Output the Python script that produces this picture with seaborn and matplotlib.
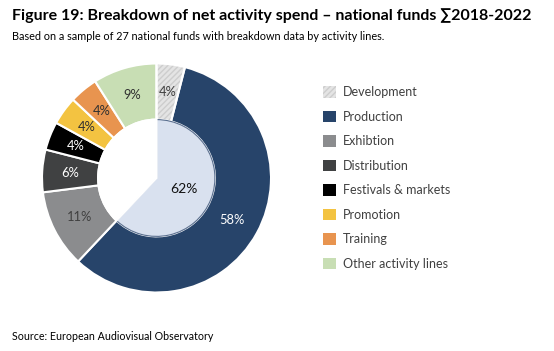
import matplotlib
matplotlib.use("Agg")
import matplotlib.pyplot as plt
from matplotlib.patches import Patch
import numpy as np
import seaborn as sns

categories = ["Development", "Production", "Exhibtion", "Distribution",
              "Festivals & markets", "Promotion", "Training", "Other activity lines"]
shares = [4, 58, 11, 6, 4, 4, 4, 9]
colors = ["#e4e4e4", "#27446a", "#8b8c8e", "#404142", "#000000",
          "#f3c341", "#e8944f", "#c8deb4"]
label_colors = ["#404040", "white", "#404040", "white", "white",
                "#303030", "#303030", "#303030"]
inner_values = [62, 38]
inner_colors = ["#d9e1ef", "white"]

sns.set_theme(style="white")
plt.rcParams["font.family"] = ["Lato", "DejaVu Sans"]

W, H = 554, 351
fig = plt.figure(figsize=(W / 100, H / 100), dpi=100)

cx, cy, R = 156.5, 178, 114.5
ax = fig.add_axes([(cx - R) / W, (H - cy - R) / H, 2 * R / W, 2 * R / H])
ax.axis("off")

ring_w = 0.49
wedges, texts = ax.pie(shares, colors=colors, radius=1.0, startangle=90,
                       counterclock=False,
                       wedgeprops=dict(width=ring_w, edgecolor="white", linewidth=1.5))
wedges[0].set_hatch("//////")
wedges[0].set_edgecolor("#cdcdcd")
wedges[0].set_linewidth(0)
over, _ = ax.pie(shares[:1] + [sum(shares[1:])], colors=["none", "none"], radius=1.0,
                 startangle=90, counterclock=False,
                 wedgeprops=dict(width=ring_w, edgecolor="white", linewidth=1.5))
over[1].set_visible(False)

cum = np.cumsum([0] + shares)
for i, v in enumerate(shares):
    mid = 90 - (cum[i] + v / 2) / 100 * 360
    r = 1 - ring_w / 2
    ax.text(r * np.cos(np.radians(mid)), r * np.sin(np.radians(mid)), f"{v}%",
            ha="center", va="center", fontsize=9.3, color=label_colors[i])

inner_r = 0.51
iw, _ = ax.pie(inner_values, colors=inner_colors, radius=inner_r, startangle=90,
               counterclock=False,
               wedgeprops=dict(edgecolor="white", linewidth=1.5))
iw[0].set_edgecolor("#5a6f8f")
iw[0].set_linewidth(0.8)
mid = 90 - inner_values[0] / 2 / 100 * 360
ax.text(0.26 * np.cos(np.radians(mid)), 0.26 * np.sin(np.radians(mid)), f"{inner_values[0]}%",
        ha="center", va="center", fontsize=10, color="#111111")
ax.set_xlim(-1, 1)
ax.set_ylim(-1, 1)

handles = []
for i, (c, lab) in enumerate(zip(colors, categories)):
    if i == 0:
        handles.append(Patch(facecolor=c, edgecolor="#cdcdcd", hatch="//////", linewidth=0, label=lab))
    else:
        handles.append(Patch(facecolor=c, edgecolor="none", label=lab))
fig.legend(handles=handles, loc="upper left", bbox_to_anchor=(312 / W, 1 - 75 / H),
           frameon=False, fontsize=9, handlelength=1.0, handleheight=1.0,
           labelspacing=1.0, handletextpad=0.6, labelcolor="#404040")

fig.text(12 / W, 1 - 16 / H, "Figure 19: Breakdown of net activity spend \u2013 national funds \u22112018-2022",
         fontsize=11.5, fontweight="bold", color="black", va="center", ha="left")
fig.text(12 / W, 1 - 36 / H, "Based on a sample of 27 national funds with breakdown data by activity lines.",
         fontsize=7.8, color="black", va="center", ha="left")
fig.text(12 / W, 1 - 337 / H, "Source: European Audiovisual Observatory",
         fontsize=7.7, color="black", va="center", ha="left")

fig.savefig("out.png", dpi=100, facecolor="white")
